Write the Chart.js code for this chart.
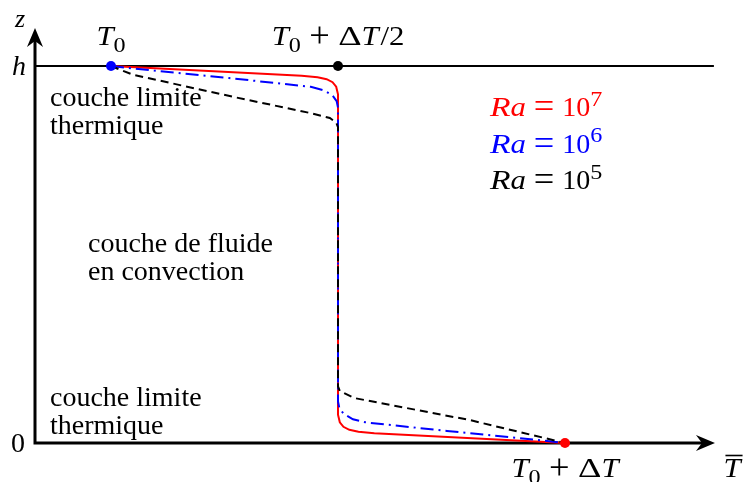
<!DOCTYPE html>
<html>
<head>
<meta charset="utf-8">
<script src="https://cdn.jsdelivr.net/npm/chart.js@4"></script>
<style>
  html, body { margin: 0; padding: 0; background: #fff; }
  #wrap { width: 744px; height: 482px; }
</style>
</head>
<body>
<div id="wrap"><canvas id="c" width="744" height="482"></canvas></div>
<script>
// ── Données (T en unités de ΔT depuis T0, z en unités de h) ─────────────────
const ra7T = [0, 0.42, 0.455, 0.475, 0.488, 0.496, 0.5, 0.5, 0.504, 0.512, 0.525, 0.545, 0.58, 1];
const ra7Z = [1, 0.974, 0.970, 0.965, 0.957, 0.945, 0.925, 0.075, 0.055, 0.043, 0.035, 0.030, 0.026, 0];

const ra6T = [0, 0.1, 0.26, 0.44, 0.47, 0.488, 0.497, 0.5, 0.5, 0.503, 0.512, 0.533, 0.56, 0.74, 0.9, 1];
const ra6Z = [1, 0.987, 0.968, 0.945, 0.935, 0.922, 0.907, 0.89, 0.11, 0.093, 0.078, 0.063, 0.055, 0.032, 0.013, 0];

const ra5T = [0, 0.048, 0.27, 0.44, 0.482, 0.496, 0.5, 0.5, 0.504, 0.537, 0.79, 0.98, 1];
const ra5Z = [1, 0.977, 0.918, 0.875, 0.862, 0.85, 0.838, 0.15, 0.138, 0.119, 0.061, 0.006, 0];

// points marqués : T0, T0+ΔT/2 (en z=h), T0+ΔT (en z=0)
const markT = [0, 0.5, 1];
const markZ = [1, 1, 0];
const markColors = ['#0000ff', '#000000', '#ff0000'];

const legendLabels = ['7', '6', '5'];
const legendColors = ['#ff0000', '#0000ff', '#000000'];

// ── Bornes ─────────────────────────────────────────────────────────────────
const X_MIN = -0.2445, X_MAX = 1.3943;
const Y_MIN = -0.1034, Y_MAX = 1.1751;
const AXIS_T = -0.1674;     // position de l'axe z
const AXIS_T_END = 1.3304;  // pointe de la flèche T
const AXIS_Z_END = 1.1008;  // pointe de la flèche z

const SERIF = '"Liberation Serif", "Times New Roman", serif';

const zip = (xs, ys) => xs.map((x, i) => ({ x, y: ys[i] }));

// ── Texte « math » : suites de morceaux ────────────────────────────────────
// [texte, style, étirement] ; style : 'i' italique, 'r' droit, 'op' opérateur
// (+, =), 'sub' indice, 'sup' exposant, 'gap' espace (en em)
function _size(style, size) {
  if (style === 'sub' || style === 'sup') return size * 0.75;
  if (style === 'op') return size * 1.3;
  return size;
}
function _font(style, size) {
  return `${style === 'i' ? 'italic ' : ''}${_size(style, size)}px ${SERIF}`;
}

function _runWidth(ctx, [t, st, sx = 1], size) {
  if (st === 'gap') return t * size;
  ctx.font = _font(st, size);
  return ctx.measureText(t).width * sx;
}

function _drawRuns(ctx, runs, x, y, size, color, align) {
  const w = runs.reduce((s, r) => s + _runWidth(ctx, r, size), 0);
  let cx = align === 'center' ? x - w / 2 : align === 'right' ? x - w : x;
  ctx.fillStyle = color;
  ctx.textAlign = 'left';
  ctx.textBaseline = 'alphabetic';
  runs.forEach(r => {
    const [t, st, sx = 1] = r;
    if (st !== 'gap') {
      ctx.font = _font(st, size);
      const dy = st === 'sub' ? size * 0.25 : st === 'sup' ? -size * 0.36 : st === 'op' ? size * 0.08 : 0;
      ctx.save();
      ctx.translate(cx, y + dy);
      ctx.scale(sx, 1);
      ctx.fillText(t, 0, 0);
      ctx.restore();
    }
    cx += _runWidth(ctx, r, size);
  });
  return w;
}

function _arrow(ctx, x, y, dir) {
  // pointe « stealth » ; dir = 'right' | 'up'
  const L = 19, W = 8, N = 6;
  ctx.save();
  ctx.translate(x, y);
  if (dir === 'up') ctx.rotate(-Math.PI / 2);
  ctx.beginPath();
  ctx.moveTo(0, 0);
  ctx.lineTo(-L, -W);
  ctx.lineTo(-L + N, 0);
  ctx.lineTo(-L, W);
  ctx.closePath();
  ctx.fillStyle = '#000';
  ctx.fill();
  ctx.restore();
}

// ── Plugin : axes, ligne h, textes ─────────────────────────────────────────
const decor = {
  id: 'decor',
  beforeDatasetsDraw(chart) {
    const { ctx, scales: { x, y } } = chart;
    const x0 = x.getPixelForValue(AXIS_T);
    const xEnd = x.getPixelForValue(AXIS_T_END);
    const y0 = y.getPixelForValue(0);
    const yEnd = y.getPixelForValue(AXIS_Z_END);
    const yh = y.getPixelForValue(1);
    ctx.save();
    ctx.strokeStyle = '#000';
    ctx.lineCap = 'butt';
    // ligne z = h
    ctx.lineWidth = 1.8;
    ctx.beginPath();
    ctx.moveTo(x0, yh);
    ctx.lineTo(x.getPixelForValue(1.328), yh);
    ctx.stroke();
    // axes
    ctx.lineWidth = 3;
    ctx.beginPath();
    ctx.moveTo(x0, y0 + 1.5);
    ctx.lineTo(x0, yEnd + 8);
    ctx.moveTo(x0 - 1.5, y0);
    ctx.lineTo(xEnd - 8, y0);
    ctx.stroke();
    _arrow(ctx, xEnd, y0, 'right');
    _arrow(ctx, x0, yEnd, 'up');
    ctx.restore();
  },
  afterDatasetsDraw(chart) {
    const { ctx, scales: { x, y } } = chart;
    const M = 28;   // taille des formules
    const F = 28;   // taille du texte
    const bin = 0.3, rel = 0.28;  // espacements TeX autour de + et =
    ctx.save();
    // noms des axes et graduations
    _drawRuns(ctx, [['z', 'i']], 20, 27, 26, '#000', 'center');
    _drawRuns(ctx, [['h', 'i']], 26, 75, M, '#000', 'right');
    _drawRuns(ctx, [['0', 'r']], 25, 452, M, '#000', 'right');
    const wT = _drawRuns(ctx, [['T', 'i', 1.1]], 732, 477, M, '#000', 'center');
    ctx.strokeStyle = '#000';
    ctx.lineWidth = 1.6;
    ctx.beginPath();
    ctx.moveTo(732 - wT / 2 + 2, 455.5);
    ctx.lineTo(732 + wT / 2 + 2, 455.5);
    ctx.stroke();

    // étiquettes des points
    const t0 = [['T', 'i', 1.1], ['0', 'sub', 1.15]];
    const plusDT = [[bin, 'gap'], ['+', 'op'], [bin, 'gap'], ['Δ', 'r', 1.3], ['T', 'i', 1.1]];
    _drawRuns(ctx, t0, x.getPixelForValue(0), 45, M, '#000', 'center');
    _drawRuns(ctx, [...t0, ...plusDT, [0.06, 'gap'], ['/2', 'r', 1.1]],
      x.getPixelForValue(0.5), 45, M, '#000', 'center');
    _drawRuns(ctx, [...t0, ...plusDT], x.getPixelForValue(1), 477, M, '#000', 'center');

    // légende
    legendLabels.forEach((p, i) => {
      _drawRuns(ctx, [['R', 'i', 1.2], ['a', 'i', 1.1], [rel, 'gap'], ['=', 'op'], [rel, 'gap'], ['10', 'r'], [p, 'sup', 1.15]],
        490, 116 + i * 36.5, M, legendColors[i], 'left');
    });

    // annotations
    ctx.font = `${F}px ${SERIF}`;
    ctx.fillStyle = '#000';
    ctx.textAlign = 'left';
    ctx.fillText('couche limite', 50, 106);
    ctx.fillText('thermique', 50, 134);
    ctx.fillText('couche de fluide', 88, 252);
    ctx.fillText('en convection', 88, 280);
    ctx.fillText('couche limite', 50, 406);
    ctx.fillText('thermique', 50, 434);
    ctx.restore();
  }
};

// ── Graphique ──────────────────────────────────────────────────────────────
new Chart(document.getElementById('c'), {
  type: 'scatter',
  data: {
    datasets: [
      {
        label: 'points',
        data: zip(markT, markZ),
        showLine: false,
        pointRadius: 5,
        pointBackgroundColor: markColors,
        pointBorderWidth: 0,
      },
      {
        label: 'Ra = 1e5',
        data: zip(ra5T, ra5Z),
        showLine: true,
        borderColor: '#000',
        borderWidth: 2,
        borderDash: [8, 5],
        pointRadius: 0,
        tension: 0,
      },
      {
        label: 'Ra = 1e6',
        data: zip(ra6T, ra6Z),
        showLine: true,
        borderColor: '#0000ff',
        borderWidth: 2,
        borderDash: [13, 5, 2, 5],
        pointRadius: 0,
        tension: 0,
      },
      {
        label: 'Ra = 1e7',
        data: zip(ra7T, ra7Z),
        showLine: true,
        borderColor: '#ff0000',
        borderWidth: 2,
        pointRadius: 0,
        tension: 0,
      },
    ],
  },
  options: {
    responsive: false,
    animation: false,
    layout: { padding: 0, autoPadding: false },
    plugins: { legend: { display: false }, tooltip: { enabled: false } },
    scales: {
      x: { type: 'linear', min: X_MIN, max: X_MAX, display: false },
      y: { type: 'linear', min: Y_MIN, max: Y_MAX, display: false },
    },
  },
  plugins: [decor],
});
</script>
</body>
</html>
